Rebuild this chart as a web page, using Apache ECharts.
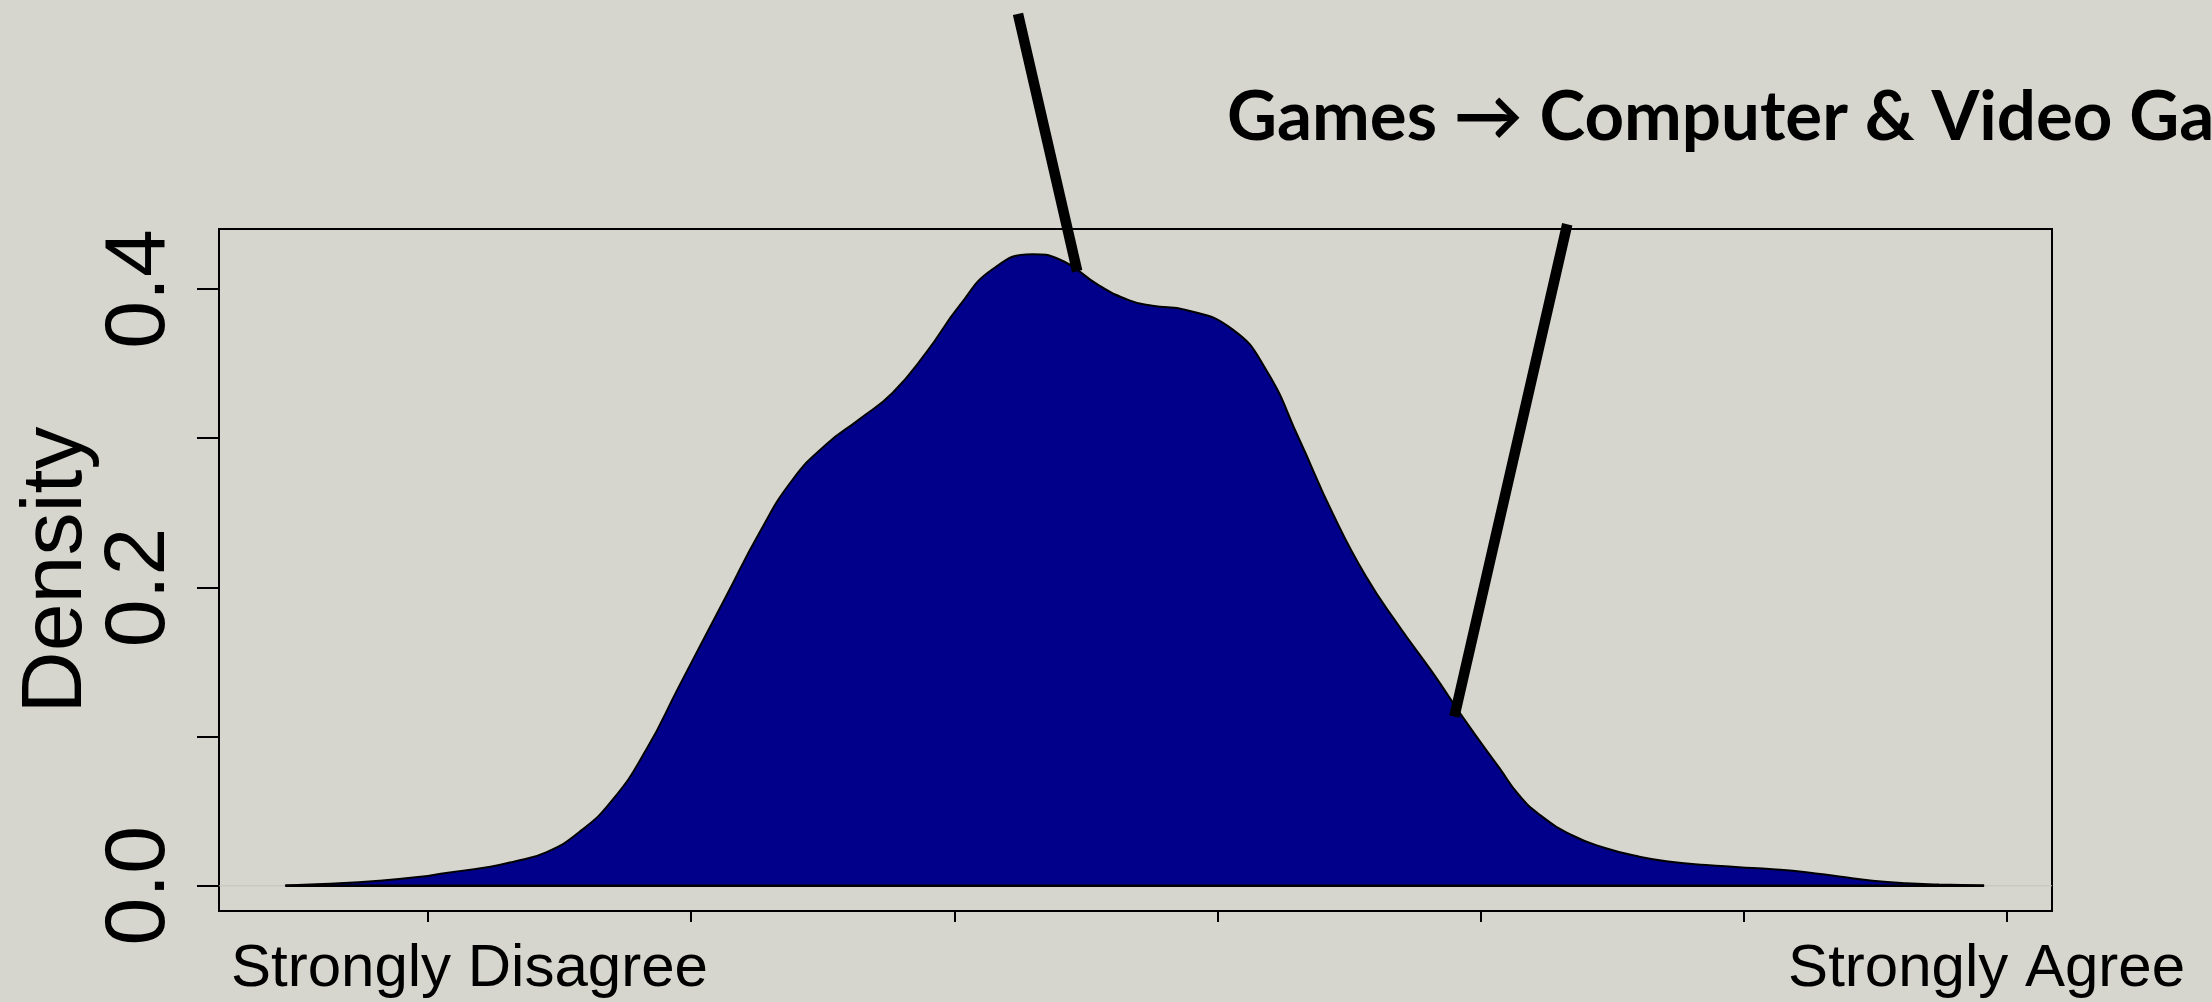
<!DOCTYPE html>
<html>
<head>
<meta charset="utf-8">
<title>Games → Computer &amp; Video Games</title>
<script src="https://cdn.jsdelivr.net/npm/echarts@6/dist/echarts.min.js"></script>
<style>
  html, body { margin: 0; padding: 0; background: #d6d6ce; }
  #chart { width: 2212px; height: 1002px; }
</style>
</head>
<body>
<div id="chart"></div>
<script>
// Kernel density estimate of the response score (x) and its density (y)
const densityX = [0.458, 0.600, 0.815, 0.971, 1.069, 1.237, 1.322, 1.449, 1.575, 1.702,
  1.829, 1.955, 2.133, 2.259, 2.386, 2.513, 2.639, 2.766, 2.893,
  3.019, 3.145, 3.297, 3.398, 3.551, 3.665, 3.753, 3.880, 4.057, 4.184,
  4.311, 4.437, 4.564, 4.691, 4.817, 4.944, 5.071, 5.147, 5.223, 5.349,
  5.476, 5.603, 5.729, 5.856, 5.982, 6.109, 6.237, 6.362, 6.489, 6.616,
  6.742, 6.913];
const densityY = [0.0002, 0.0012, 0.0034, 0.0060, 0.0086, 0.0128, 0.0160, 0.0224, 0.0360, 0.0577,
  0.0911, 0.1340, 0.1940, 0.2365, 0.2723, 0.2958, 0.3126, 0.3305, 0.3573,
  0.3886, 0.4132, 0.4233, 0.4199, 0.4023, 0.3924, 0.3887, 0.3859, 0.3729, 0.3461,
  0.2991, 0.2499, 0.2074, 0.1738, 0.1430, 0.1100, 0.0790, 0.0605, 0.0478, 0.0337,
  0.0252, 0.0195, 0.0159, 0.0139, 0.0125, 0.0111, 0.0091, 0.0062, 0.0034, 0.0017,
  0.0009, 0.0002];

// Axis extents and ticks
const xRange = [0.206, 7.171];
const yRange = [-0.0169, 0.4402];
const xTicks = [1, 2, 3, 4, 5, 6, 7];
const yTicks = [0, 0.1, 0.2, 0.3, 0.4];
const yTickLabels = [0, 0.2, 0.4];

// Text
const titleText = 'Games → Computer & Video Games';
const yAxisTitle = 'Density';
const scaleLow = 'Strongly Disagree';
const scaleHigh = 'Strongly Agree';

// Callout pointer strokes, in data units (x score, density)
const pointerLeft = [[3.242, 0.5844], [3.467, 0.4119]];
const pointerRight = [[5.329, 0.4434], [4.900, 0.1134]];

const INK = '#000000';
const FILL = '#00008B';
const BG = '#d6d6ce';
const AXIS_FONT = '"Liberation Sans", Arial, Helvetica, sans-serif';
const TITLE_FONT = 'Lato, "Noto Sans", sans-serif';

const curve = densityX.map((x, i) => [x, densityY[i]]);
const baseEdge = [[densityX[0], 0], [densityX[densityX.length - 1], 0]];
const zeroLine = [[xRange[0], 0], [xRange[1], 0]];

const chart = echarts.init(document.getElementById('chart'), null, { renderer: 'canvas' });

chart.setOption({
  backgroundColor: BG,
  animation: false,
  grid: {
    left: 219, right: 160, top: 229, bottom: 91,
    show: true,
    borderColor: INK,
    borderWidth: 2,
    backgroundColor: 'transparent',
    outerBoundsMode: 'none'
  },
  xAxis: {
    type: 'value',
    min: xRange[0],
    max: xRange[1],
    axisLine: { show: false, onZero: false },
    axisTick: {
      show: true,
      customValues: xTicks,
      length: 11,
      lineStyle: { color: INK, width: 2 }
    },
    axisLabel: { show: false },
    splitLine: { show: false }
  },
  yAxis: {
    type: 'value',
    min: yRange[0],
    max: yRange[1],
    name: yAxisTitle,
    nameLocation: 'middle',
    nameRotate: 90,
    nameGap: 119,
    nameMoveOverlap: false,
    nameTextStyle: { fontFamily: AXIS_FONT, fontSize: 86, color: INK },
    axisLine: { show: false },
    axisTick: {
      show: true,
      customValues: yTicks,
      length: 22,
      lineStyle: { color: INK, width: 2 }
    },
    axisLabel: {
      show: true,
      customValues: yTickLabels,
      rotate: 90,
      margin: 36,
      fontFamily: AXIS_FONT,
      fontSize: 86,
      color: INK,
      formatter: v => Number(v).toFixed(1)
    },
    splitLine: { show: false }
  },
  series: [
    {
      name: 'zero',
      type: 'line',
      data: zeroLine,
      symbol: 'none',
      silent: true,
      z: 1,
      lineStyle: { color: '#c4c4c0', width: 1 }
    },
    {
      name: 'density',
      type: 'line',
      data: curve,
      smooth: 0.5,
      symbol: 'none',
      z: 2,
      lineStyle: { color: INK, width: 2 },
      areaStyle: { color: FILL, opacity: 1 }
    },
    {
      name: 'base',
      type: 'line',
      data: baseEdge,
      symbol: 'none',
      silent: true,
      z: 3,
      lineStyle: { color: INK, width: 2.5 }
    },
    {
      name: 'pointerLeft',
      type: 'line',
      data: pointerLeft,
      symbol: 'none',
      clip: false,
      silent: true,
      z: 5,
      lineStyle: { color: INK, width: 10.5, cap: 'butt' }
    },
    {
      name: 'pointerRight',
      type: 'line',
      data: pointerRight,
      symbol: 'none',
      clip: false,
      silent: true,
      z: 5,
      lineStyle: { color: INK, width: 10.5, cap: 'butt' }
    }
  ],
  graphic: [
    {
      type: 'text',
      left: 1227,
      top: 83,
      style: {
        text: titleText,
        fill: INK,
        font: '700 69px ' + TITLE_FONT
      }
    },
    {
      type: 'text',
      x: 231,
      y: 969,
      style: {
        text: scaleLow,
        fill: INK,
        font: '60px ' + AXIS_FONT,
        textAlign: 'left',
        textVerticalAlign: 'middle',
        align: 'left',
        verticalAlign: 'middle'
      }
    },
    {
      type: 'text',
      x: 2185,
      y: 969,
      style: {
        text: scaleHigh,
        fill: INK,
        font: '60px ' + AXIS_FONT,
        textAlign: 'right',
        textVerticalAlign: 'middle',
        align: 'right',
        verticalAlign: 'middle'
      }
    }
  ]
});
</script>
</body>
</html>
